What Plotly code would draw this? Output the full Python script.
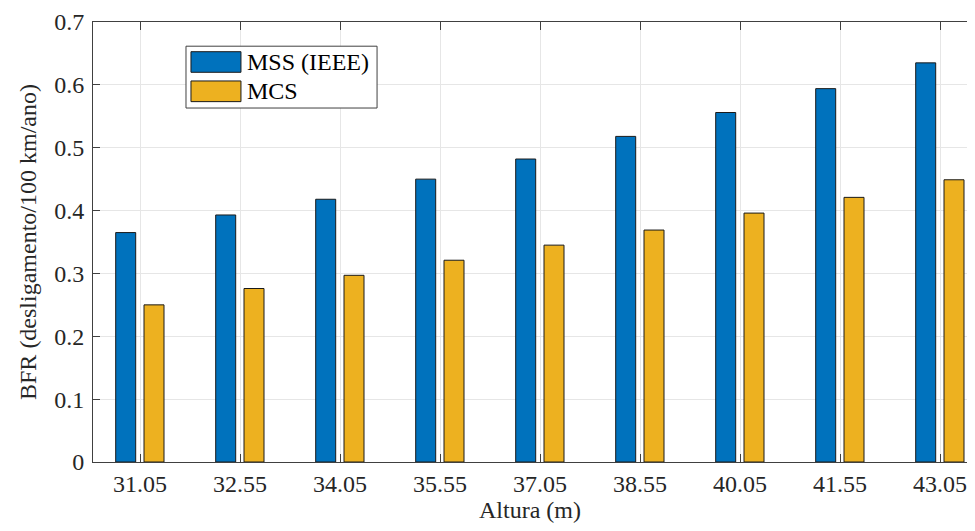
import plotly.graph_objects as go

# data
alturas = ['31.05', '32.55', '34.05', '35.55', '37.05', '38.55', '40.05', '41.55', '43.05']
bfr_mss = [0.365, 0.393, 0.418, 0.450, 0.482, 0.518, 0.556, 0.594, 0.635]
bfr_mcs = [0.250, 0.276, 0.297, 0.321, 0.345, 0.369, 0.396, 0.421, 0.449]
series_names = ['MSS (IEEE)', 'MCS']
y_ticks = [0, 0.1, 0.2, 0.3, 0.4, 0.5, 0.6, 0.7]

blue = '#0072BD'
gold = '#EDB120'
axis_col = '#404040'
font_fam = 'Times New Roman, Liberation Serif, DejaVu Serif, serif'

fig = go.Figure()

fig.add_trace(go.Bar(
    x=alturas, y=bfr_mss, name=series_names[0],
    width=0.2, offset=-0.243,
    marker=dict(color=blue, line=dict(color='#1a1a1a', width=1)),
))
fig.add_trace(go.Bar(
    x=alturas, y=bfr_mcs, name=series_names[1],
    width=0.2, offset=0.04,
    marker=dict(color=gold, line=dict(color='#1a1a1a', width=1)),
))

# MATLAB-like legend box drawn by hand (wide swatches)
legend_shapes = [
    dict(type='rect', xref='paper', yref='paper', x0=0.1064, x1=0.325, y0=0.8045, y1=0.945,
         line=dict(color=axis_col, width=1), fillcolor='white'),
    dict(type='rect', xref='paper', yref='paper', x0=0.1121, x1=0.1693, y0=0.8857, y1=0.9325,
         line=dict(color='#1a1a1a', width=1), fillcolor=blue),
    dict(type='rect', xref='paper', yref='paper', x0=0.1121, x1=0.1693, y0=0.819, y1=0.866,
         line=dict(color='#1a1a1a', width=1), fillcolor=gold),
]
legend_text = [
    dict(xref='paper', yref='paper', x=0.1739, y=0.909, text=series_names[0], showarrow=False,
         xanchor='left', yanchor='middle', font=dict(size=24, color='black', family=font_fam)),
    dict(xref='paper', yref='paper', x=0.1739, y=0.8425, text=series_names[1], showarrow=False,
         xanchor='left', yanchor='middle', font=dict(size=24, color='black', family=font_fam)),
]

fig.update_layout(
    width=959, height=515,
    margin=dict(l=85, r=0, t=14, b=61),
    paper_bgcolor='white', plot_bgcolor='white',
    showlegend=False,
    barmode='overlay',
    font=dict(family=font_fam, size=24, color='#262626'),
    shapes=legend_shapes,
    annotations=legend_text,
    xaxis=dict(
        type='category', range=[-0.47, 8.27],
        showgrid=True, gridcolor='#e6e6e6', gridwidth=1,
        showline=True, linecolor=axis_col, linewidth=1, mirror='ticks',
        ticks='inside', ticklen=8, tickcolor=axis_col,
        tickfont=dict(family=font_fam, size=24),
        title=dict(text='Altura (m)', standoff=8, font=dict(size=24, family=font_fam)),
    ),
    yaxis=dict(
        range=[0, 0.7], tickvals=y_ticks, ticktext=[f'{v:g}' for v in y_ticks],
        showgrid=True, gridcolor='#e6e6e6', gridwidth=1,
        showline=True, linecolor=axis_col, linewidth=1,
        ticks='inside', ticklen=7, tickcolor=axis_col,
        tickfont=dict(family=font_fam, size=24),
        ticklabelstandoff=3,
        zeroline=False,
        title=dict(text='BFR (desligamento/100 km/ano)', standoff=10, font=dict(size=24, family=font_fam)),
    ),
)

fig.write_html("out.html")
